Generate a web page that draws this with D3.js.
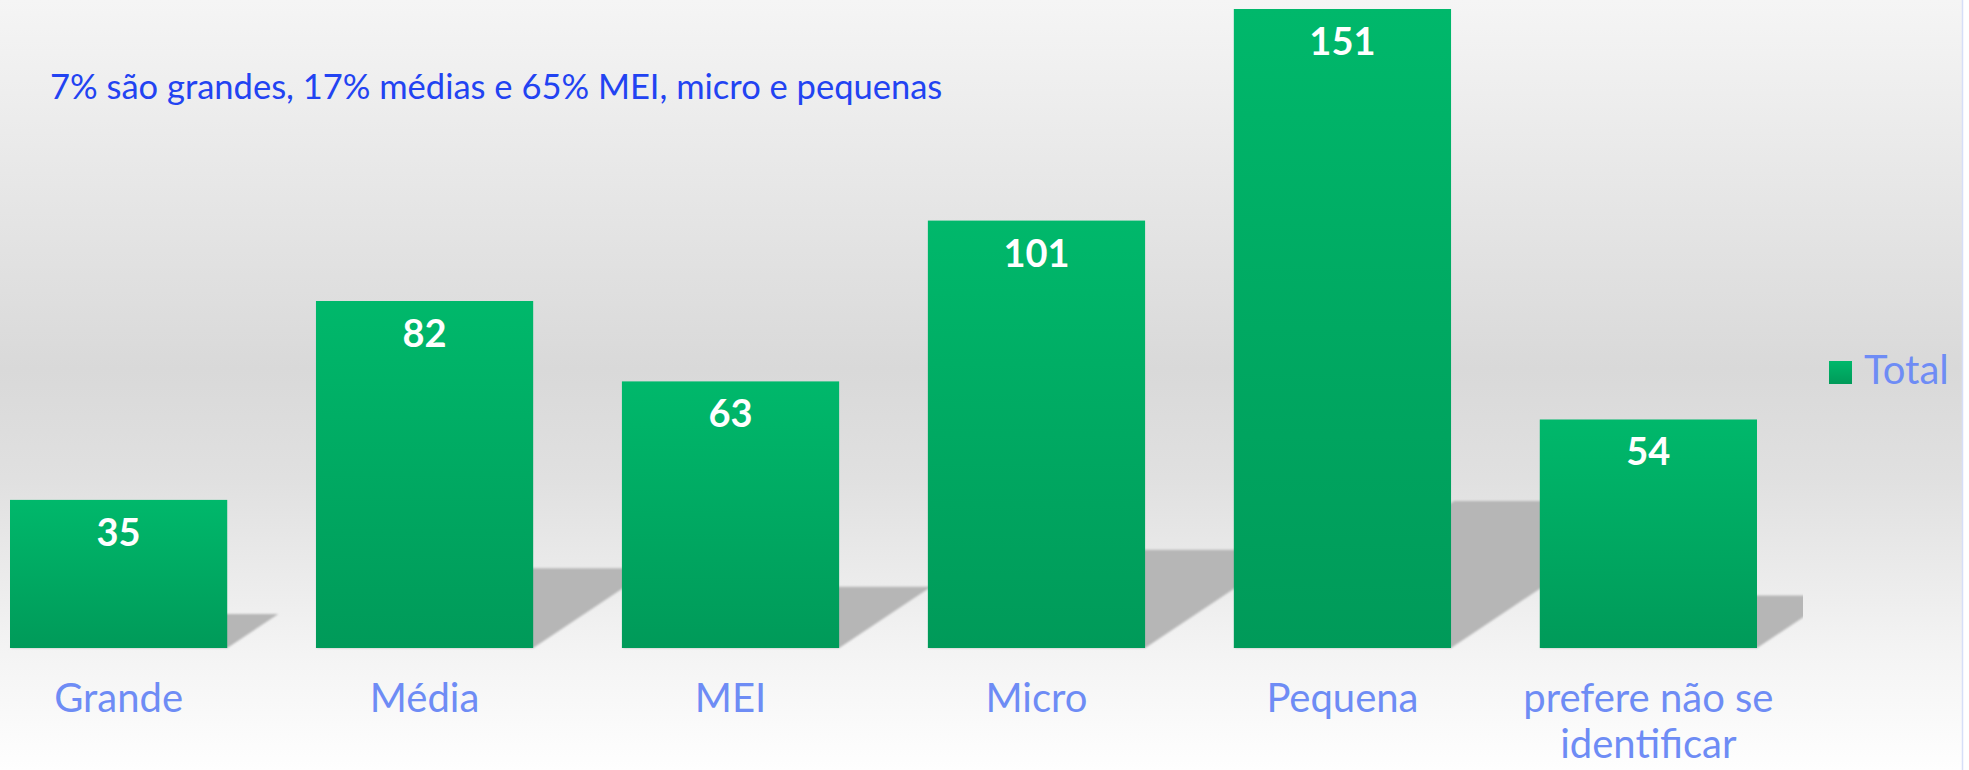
<!DOCTYPE html>
<html>
<head>
<meta charset="utf-8">
<script src="https://cdn.jsdelivr.net/npm/d3@7"></script>
<style>
  html, body { margin: 0; padding: 0; background: #ffffff; }
  svg { display: block; font-family: Lato, "Open Sans", sans-serif; }
</style>
</head>
<body>
<div id="chart"></div>
<script>
// Chart data
const categories = ["Grande", "Média", "MEI", "Micro", "Pequena", "prefere não se identificar"];
const totals = [35, 82, 63, 101, 151, 54];
const seriesName = "Total";
const subtitle = "7% são grandes, 17% médias e 65% MEI, micro e pequenas";

const width = 1969, height = 770;
const plotRight = 1803;   // shadows get clipped here

const svg = d3.select("#chart")
    .append("svg")
    .attr("width", width)
    .attr("height", height);

const defs = svg.append("defs");

// background gradient (light top, grey middle, white bottom)
const bg = defs.append("linearGradient")
    .attr("id", "bg").attr("x1", 0).attr("y1", 0).attr("x2", 0).attr("y2", 1);
bg.append("stop").attr("offset", "0%").attr("stop-color", "#f5f5f5");
bg.append("stop").attr("offset", "48%").attr("stop-color", "#d9d9d9");
bg.append("stop").attr("offset", "62%").attr("stop-color", "#e0e0e0");
bg.append("stop").attr("offset", "85%").attr("stop-color", "#f4f4f4");
bg.append("stop").attr("offset", "100%").attr("stop-color", "#fefefe");

// bar gradient
const barGrad = defs.append("linearGradient")
    .attr("id", "barGrad").attr("x1", 0).attr("y1", 0).attr("x2", 0).attr("y2", 1);
barGrad.append("stop").attr("offset", "0%").attr("stop-color", "#00b86b");
barGrad.append("stop").attr("offset", "100%").attr("stop-color", "#009a59");

defs.append("filter").attr("id", "soft")
    .append("feGaussianBlur").attr("stdDeviation", 1.2);

defs.append("clipPath").attr("id", "plotClip")
    .append("rect").attr("x", 0).attr("y", 0).attr("width", plotRight).attr("height", height);

svg.append("rect")
    .attr("x", 0).attr("y", 0)
    .attr("width", 1962).attr("height", height)
    .attr("fill", "url(#bg)");
svg.append("line")
    .attr("x1", 1962.5).attr("x2", 1962.5)
    .attr("y1", 0).attr("y2", height)
    .attr("stroke", "#d6def8").attr("stroke-width", 1.5);

// scales
const x = d3.scaleBand()
    .domain(categories)
    .range([10, 1757])
    .paddingInner(0.29)
    .paddingOuter(0);

const y = d3.scaleLinear()
    .domain([0, d3.max(totals)])
    .range([648, 9]);

const data = categories.map((c, i) => ({ cat: c, value: totals[i] }));

// floor shadows behind the bars
const y0 = y(0);
svg.append("g")
    .attr("clip-path", "url(#plotClip)")
    .selectAll("polygon")
    .data(data)
    .join("polygon")
    .attr("points", d => {
        const sh = 0.23 * (y0 - y(d.value));
        const dx = 1.5 * sh;
        const xl = x(d.cat), xr = x(d.cat) + x.bandwidth();
        return [[xl, y0], [xr, y0], [xr + dx, y0 - sh], [xl + dx, y0 - sh]].join(" ");
    })
    .attr("fill", "#b6b6b6")
    .attr("filter", "url(#soft)");

// bars
svg.append("g")
    .selectAll("rect")
    .data(data)
    .join("rect")
    .attr("x", d => x(d.cat))
    .attr("y", d => y(d.value))
    .attr("width", x.bandwidth())
    .attr("height", d => y0 - y(d.value))
    .attr("fill", "url(#barGrad)");

// value labels
svg.append("g")
    .selectAll("text")
    .data(data)
    .join("text")
    .attr("x", d => x(d.cat) + x.bandwidth() / 2)
    .attr("y", d => y(d.value) + 46)
    .attr("text-anchor", "middle")
    .attr("fill", "#ffffff")
    .style("font-size", "38px")
    .style("font-weight", "bold")
    .text(d => d.value);

// category labels, wrapped when too wide
const labelSize = 40;
const labels = svg.append("g")
    .selectAll("text")
    .data(categories)
    .join("text")
    .attr("x", d => x(d) + x.bandwidth() / 2)
    .attr("y", 712)
    .attr("text-anchor", "middle")
    .attr("fill", "#6e8cf5")
    .style("font-size", labelSize + "px");

labels.each(function(d) {
    const t = d3.select(this);
    const words = d.split(" ");
    let line = [];
    let tspan = t.append("tspan").attr("x", x(d) + x.bandwidth() / 2).attr("dy", 0);
    words.forEach(w => {
        line.push(w);
        tspan.text(line.join(" "));
        if (tspan.node().getComputedTextLength() > 290 && line.length > 1) {
            line.pop();
            tspan.text(line.join(" "));
            line = [w];
            tspan = t.append("tspan")
                .attr("x", x(d) + x.bandwidth() / 2)
                .attr("dy", 46)
                .text(w);
        }
    });
});

// subtitle note
svg.append("text")
    .attr("x", 50)
    .attr("y", 99)
    .attr("fill", "#2243f2")
    .style("font-size", "34.5px")
    .text(subtitle);

// legend
const legend = svg.append("g").attr("transform", "translate(1829,361)");
legend.append("rect")
    .attr("width", 23).attr("height", 23)
    .attr("fill", "url(#barGrad)");
legend.append("text")
    .attr("x", 35).attr("y", 23)
    .attr("fill", "#6e8cf5")
    .style("font-size", "40px")
    .text(seriesName);
</script>
</body>
</html>
